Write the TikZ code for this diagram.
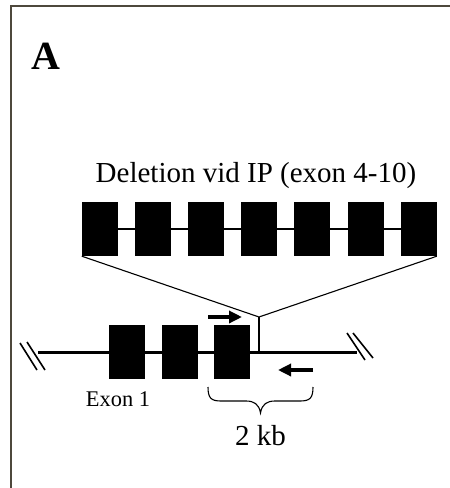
\documentclass[tikz,border=0pt]{standalone}
\usepackage{fontspec}
\setmainfont{Liberation Serif}
\usetikzlibrary{arrows.meta}
\definecolor{framecol}{RGB}{78,72,60}
\tikzset{
  exonbox/.style={fill=black, draw=none, inner sep=0pt, minimum width=36pt, minimum height=54pt},
  primer/.style={line width=3.5pt, -{Triangle[length=13pt,width=12pt]}},
  breakmark/.style={line width=1.6pt},
  thinline/.style={line width=1.1pt},
  label/.style={inner sep=0pt, anchor=base}
}
\begin{document}
\begin{tikzpicture}[x=1pt,y=-1pt]
\useasboundingbox (0,0) rectangle (450,488);
% frame
\draw[framecol, line width=2pt] (10.5,488) -- (10.5,6) -- (450,6);
% panel letter
\node[label, anchor=base west] (A) at (31,69) {\fontsize{40}{44}\selectfont\bfseries A};
% title
\node[label] (title) at (256,182) {\fontsize{29}{34}\selectfont Deletion vid IP (exon 4-10)};
% top row of exons
\coordinate (tl) at (100,229);
\coordinate (tr) at (418.6,229);
\draw[line width=2.5pt] (tl) -- (tr);
\foreach \i in {0,...,6} {
  \node[exonbox] (t\i) at ({100+53.1*\i},229) {};
}
% main genomic line
\coordinate (ml) at (38,352);
\coordinate (mr) at (357,352);
\draw[line width=3pt] (ml) -- (mr);
% break marks
\draw[breakmark] (20,343) -- (37,370);
\draw[breakmark] (27,342) -- (45,370);
\draw[breakmark] (347,333) -- (365,360);
\draw[breakmark] (353,333) -- (373,358);
% lower exons
\foreach \i in {0,1,2} {
  \node[exonbox] (b\i) at ({127+52.7*\i},352) {};
}
% insertion lines
\coordinate (apex) at (259,317);
\coordinate (ins) at (259,352);
\draw[thinline] (t0.south west) -- (apex) -- (t6.south east);
\draw[thinline] (apex) -- (ins);
% primers
\coordinate (f1) at (208,317);
\coordinate (f2) at (242,317);
\coordinate (r1) at (313,370);
\coordinate (r2) at (278,370);
\draw[primer] (f1) -- (f2);
\draw[primer] (r1) -- (r2);
% brace
\draw[line width=1.1pt]
  (208,387) .. controls (208,398) and (211,401) .. (221,401)
  -- (246,401) .. controls (254,401) and (259,404) .. (260.5,413)
  .. controls (262,404) and (267,401) .. (275,401)
  -- (300,401) .. controls (310,401) and (313,398) .. (313,387);
% labels
\node[label] (exon1) at (118,406) {\fontsize{22.4}{26}\selectfont Exon 1};
\node[label] (kb) at (260.5,445.7) {\fontsize{29}{34}\selectfont 2 kb};
\end{tikzpicture}
\end{document}
